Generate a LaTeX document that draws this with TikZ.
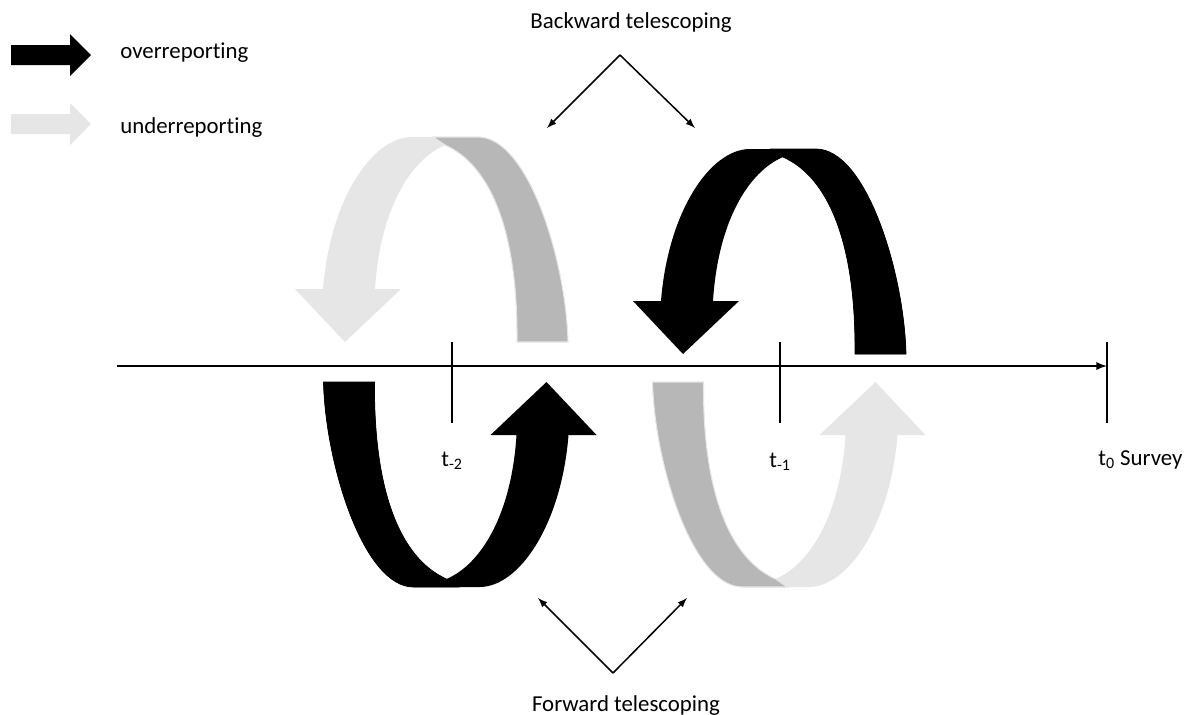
\documentclass[tikz,border=0pt]{standalone}
\usepackage{fontspec}
\setmainfont[Ligatures=NoCommon]{Carlito}
\usetikzlibrary{arrows, positioning}
\definecolor{overrep}{HTML}{000000}
\definecolor{underrep}{HTML}{E6E6E6}
\definecolor{backside}{HTML}{B7B7B7}

% curved ribbon arrow, given in the frame of the upper left one
\newcommand{\ribbon}[2]{%
  \fill[#1] (568,342) .. controls (566,260) and (528,137) .. (478,137) -- (412,137)
    .. controls (372,137) and (330,200) .. (323,289)
    -- (295,289) -- (345,342) -- (401,289) -- (375,289)
    .. controls (380,210) and (410,160) .. (445,145)
    .. controls (490,165) and (518,230) .. (517,342) -- cycle;
  \filldraw[#2] (568,342) .. controls (566,260) and (528,137) .. (478,137) -- (433,137)
    -- (445,145) .. controls (490,165) and (518,230) .. (517,342) -- cycle;
}

\begin{document}
\begin{tikzpicture}[x=0.02cm, y=-0.02cm, font=\fontsize{13}{15}\selectfont,
    lbl/.style={inner sep=0pt},
    tick/.style={line width=0.85pt},
    pointer/.style={-latex, line width=0.85pt}]
                \useasboundingbox (0,0) rectangle (1196,714);
                % Legend
                \fill[overrep] (11,45) -- (70,45) -- (70,34) -- (91,55) -- (70,76) -- (70,65) -- (11,65) -- cycle;
                \node[lbl, anchor=base west] (over) at (120,58) {overreporting};
                \fill[underrep] (11,114) -- (70,114) -- (70,103) -- (91,124) -- (70,145) -- (70,134) -- (11,134) -- cycle;
                \node[lbl, anchor=base west] (under) at (120,133) {underreporting};
                % Ribbons
                \ribbon{underrep}{fill=backside, draw=underrep, line width=0.6pt}
                \begin{scope}[shift={(338,12)}]
                    \ribbon{overrep}{fill=overrep}
                \end{scope}
                \begin{scope}[shift={(891.5,724)}, rotate=180]
                    \ribbon{overrep}{fill=overrep}
                \end{scope}
                \begin{scope}[shift={(1220.5,724)}, rotate=180]
                    \ribbon{underrep}{fill=backside, draw=underrep, line width=0.6pt}
                \end{scope}
                % Time line
                \coordinate (start) at (117,366);
                \coordinate (survey) at (1107,366);
                \draw[-latex, line width=1.1pt] (start) -- (survey);
                \draw[tick] (452,342) -- (452,423);
                \draw[tick] (780,342) -- (780,423);
                \draw[tick] (1107,342) -- (1107,423);
                \node[lbl, anchor=base west] (tm2) at (441,466) {t\textsubscript{-2}};
                \node[lbl, anchor=base west] (tm1) at (769,467) {t\textsubscript{-1}};
                \node[lbl, anchor=base west] (t0) at (1098,465) {t\textsubscript{0} Survey};
                % Telescoping
                \node[lbl, anchor=base] (back) at (631,28) {Backward telescoping};
                \coordinate (backtop) at (620,55);
                \coordinate (backl) at (547,128);
                \coordinate (backr) at (695,128);
                \draw[pointer] (backtop) -- (backl);
                \draw[pointer] (backtop) -- (backr);
                \node[lbl, anchor=base] (fwd) at (626,711) {Forward telescoping};
                \coordinate (fwdbot) at (613,673);
                \coordinate (fwdl) at (538,598);
                \coordinate (fwdr) at (687,598);
                \draw[pointer] (fwdbot) -- (fwdl);
                \draw[pointer] (fwdbot) -- (fwdr);
            \end{tikzpicture}
\end{document}
